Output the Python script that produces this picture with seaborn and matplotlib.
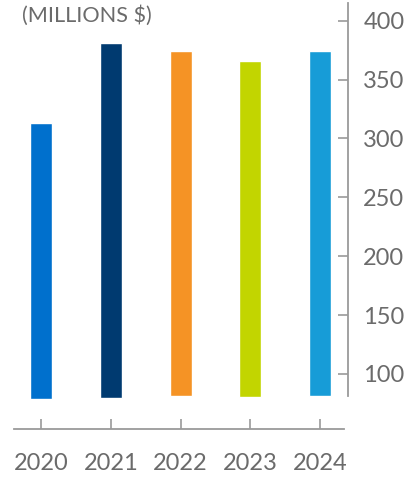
import matplotlib
matplotlib.use("Agg")
import matplotlib.pyplot as plt
import seaborn as sns
import pandas as pd

years = ["2020", "2021", "2022", "2023", "2024"]
tops = [313.0, 381.0, 374.5, 366.0, 374.5]
bottoms = [79.0, 79.5, 81.5, 80.5, 81.5]
colors = ["#0070CD", "#003A70", "#F59325", "#C2D500", "#179CD7"]
yticks = [100, 150, 200, 250, 300, 350, 400]
title = "(MILLIONS $)"

sns.set_theme(style="white")
plt.rcParams["font.family"] = ["Lato", "DejaVu Sans"]
gray = "#6b6b6b"
spine_c = "#9a9a9a"

fig = plt.figure(figsize=(4.13, 4.79), dpi=100)
ax = fig.add_axes([14 / 413, 50 / 479, 334 / 413, 426 / 479])

df = pd.DataFrame({"year": years, "height": [t - b for t, b in zip(tops, bottoms)],
                   "bottom": bottoms})
for i, row in df.iterrows():
    sns.barplot(data=df.iloc[[i]], x="year", y="height", order=years,
                color=colors[i], bottom=row["bottom"], width=0.315,
                errorbar=None, saturation=1, ax=ax)

ax.set_xlim(-0.387, 4.40)
ax.set_ylim(53.3, 415)
ax.set_xlabel("")
ax.set_ylabel("")

for s in ["top", "left"]:
    ax.spines[s].set_visible(False)
ax.spines["right"].set_visible(True)
ax.spines["bottom"].set_visible(True)
for s in ["right", "bottom"]:
    ax.spines[s].set_color(spine_c)
    ax.spines[s].set_linewidth(1.3)
ax.spines["right"].set_bounds(81.3, 415)
ax.spines["bottom"].set_bounds(-0.387, 4.344)

ax.yaxis.tick_right()
ax.set_yticks(yticks)
ax.set_yticklabels([str(v) for v in yticks])
ax.tick_params(axis="y", direction="in", length=7, width=1.2, color=spine_c,
               labelsize=17, labelcolor=gray, pad=11, right=True, left=False)
ax.tick_params(axis="x", direction="in", length=7, width=1.2, color=spine_c,
               labelsize=17, labelcolor=gray, pad=17, bottom=True)

fig.text(22 / 413, 1 - 16 / 479, title, fontsize=15.6, color=gray,
         ha="left", va="center")

fig.savefig("out.png", dpi=100)
